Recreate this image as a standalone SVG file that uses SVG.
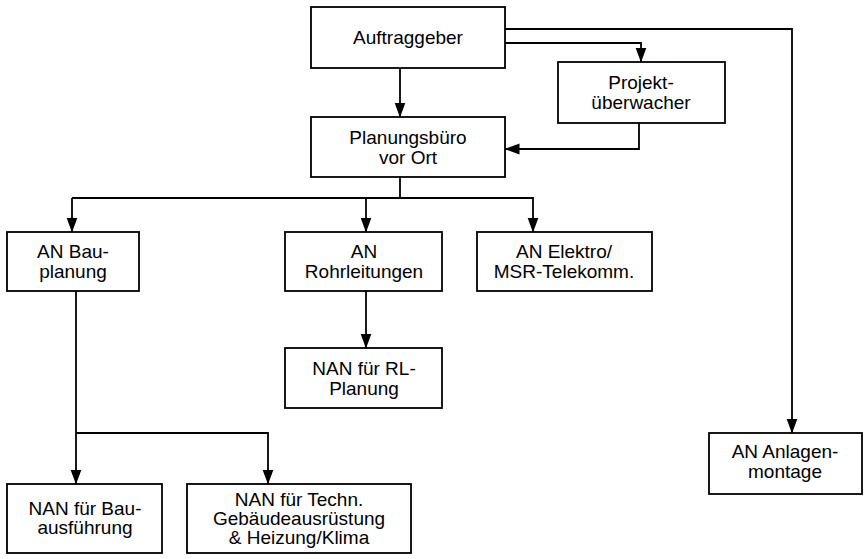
<svg xmlns="http://www.w3.org/2000/svg" width="865" height="559" viewBox="0 0 865 559">
<style>
.box{fill:#fff;stroke:#000;stroke-width:1.8}
.t{font-family:"Liberation Sans",Arial,sans-serif;font-size:19px;fill:#000;text-anchor:middle}
.c{fill:none;stroke:#000;stroke-width:1.8}
</style>
<defs>
<marker id="ah" markerWidth="15" markerHeight="12" refX="14.5" refY="6" orient="auto" markerUnits="userSpaceOnUse">
<path d="M0,0.5 L15,6 L0,11.5 Z" fill="#000"/>
</marker>
</defs>
<rect width="865" height="559" fill="#fff"/>
<g id="connectors">
<path class="c" d="M400,68 V117" marker-end="url(#ah)"/>
<path class="c" d="M505,29 H792 V433" marker-end="url(#ah)"/>
<path class="c" d="M505,43 H641 V62" marker-end="url(#ah)"/>
<path class="c" d="M639,123 V149 H505" marker-end="url(#ah)"/>
<path class="c" d="M400,177 V198"/>
<path class="c" d="M72,198 H533 V232" marker-end="url(#ah)"/>
<path class="c" d="M366,198 V232" marker-end="url(#ah)"/>
<path class="c" d="M72,198 V232" marker-end="url(#ah)"/>
<path class="c" d="M366,291 V348" marker-end="url(#ah)"/>
<path class="c" d="M76,291 V484" marker-end="url(#ah)"/>
<path class="c" d="M76,433 H268 V484" marker-end="url(#ah)"/>
</g>
<g id="auftraggeber"><rect class="box" x="311" y="7" width="194" height="61"/><text class="t" x="408" y="44">Auftraggeber</text></g>
<g id="projektueberwacher"><rect class="box" x="558" y="62" width="167" height="61"/><text class="t" x="641" y="89">Projekt-</text><text class="t" x="641" y="109">überwacher</text></g>
<g id="planungsbuero"><rect class="box" x="311" y="117" width="194" height="60"/><text class="t" x="408" y="144">Planungsbüro</text><text class="t" x="408" y="164">vor Ort</text></g>
<g id="an-bauplanung"><rect class="box" x="7" y="232" width="132" height="59"/><text class="t" x="73" y="258">AN Bau-</text><text class="t" x="73" y="278">planung</text></g>
<g id="an-rohrleitungen"><rect class="box" x="285" y="232" width="157" height="59"/><text class="t" x="364" y="258">AN</text><text class="t" x="364" y="278">Rohrleitungen</text></g>
<g id="an-elektro"><rect class="box" x="477" y="232" width="175" height="59"/><text class="t" x="564" y="258">AN Elektro/</text><text class="t" x="564" y="278">MSR-Telekomm.</text></g>
<g id="nan-rl"><rect class="box" x="285" y="348" width="157" height="60"/><text class="t" x="364" y="375">NAN für RL-</text><text class="t" x="364" y="395">Planung</text></g>
<g id="an-anlagenmontage"><rect class="box" x="709" y="433" width="153" height="61"/><text class="t" x="785" y="458">AN Anlagen-</text><text class="t" x="785" y="478">montage</text></g>
<g id="nan-bau"><rect class="box" x="7" y="484" width="155" height="69"/><text class="t" x="85" y="515">NAN für Bau-</text><text class="t" x="85" y="534">ausführung</text></g>
<g id="nan-techn"><rect class="box" x="187" y="484" width="224" height="69"/><text class="t" x="299" y="506">NAN für Techn.</text><text class="t" x="299" y="525">Gebäudeausrüstung</text><text class="t" x="299" y="544">&amp; Heizung/Klima</text></g>
</svg>
